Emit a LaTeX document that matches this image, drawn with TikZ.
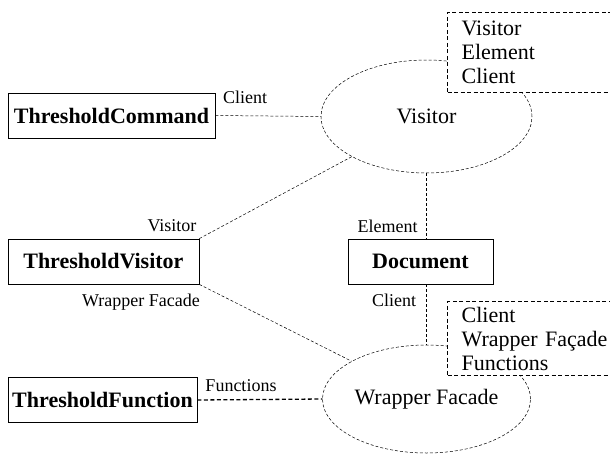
\documentclass[tikz,border=0pt]{standalone}
\usepackage{fontspec}
\setmainfont{Liberation Serif}
\usepackage{tikz}
\usetikzlibrary{shapes.geometric}

\tikzset{
  cls/.style={draw, rectangle, line width=0.8pt, inner sep=0pt, minimum height=45pt,
    font=\fontsize{22}{24}\selectfont\bfseries},
  pattern/.style={draw, ellipse, line width=0.5pt, dash pattern=on 3pt off 2pt,
    inner sep=0pt, font=\fontsize{22}{24}\selectfont},
  role/.style={inner sep=0pt, font=\fontsize{18}{20}\selectfont},
  link/.style={line width=0.5pt, dash pattern=on 3pt off 2pt},
  strong link/.style={line width=1.3pt, dash pattern=on 4pt off 2.5pt},
  legend/.style={draw, rectangle, fill=white, anchor=north west, line width=1.3pt,
    dash pattern=on 4pt off 2.5pt, inner xsep=14pt, inner ysep=0pt, align=left,
    text width=180pt, font=\fontsize{22}{24}\selectfont}
}

\begin{document}
\begin{tikzpicture}[x=1pt, y=-1pt]
        \useasboundingbox (0,0) rectangle (610,455);
        % Pattern ellipses
        \node (visitor) [pattern, minimum width=211pt, minimum height=113pt] at (426.5,116.5) {Visitor};
        \node (wrapper) [pattern, minimum width=208pt, minimum height=108pt] at (426.5,399) {Wrapper Facade};

        % Class boxes
        \node (cmd) [cls, minimum width=207pt] at (111.5,115.5) {ThresholdCommand};
        \node (tvis) [cls, minimum width=191pt] at (103.4,261.5) {ThresholdVisitor};
        \node (doc) [cls, minimum width=145pt] at (420.5,261.5) {Document};
        \node (tfun) [cls, minimum width=189pt] at (102.5,400) {ThresholdFunction};

        % Participants of each pattern
        \node (vroles) [legend, minimum height=80pt] at (447,11.7) {Visitor\\Element\\Client};
        \node (wroles) [legend, minimum height=74pt] at (447,301) {Client\\Wrapper Façade\\Functions};

        % Connectors
        \path[link] (cmd.east) edge (visitor.west);
        \path[link] (tvis.north east) edge (visitor);
        \path[link] (tvis.south east) edge (wrapper);
        \path[link] (visitor.south) edge (visitor.south |- doc.north);
        \path[link] (doc.south -| wrapper.north) edge (wrapper.north);
        \path[strong link] (tfun.east) edge (wrapper.west);

        % Role labels
        \node (lcmd) [role] at (245,97.5) {Client};
        \node (ltvis) [role] at (172,226) {Visitor};
        \node (ldoc) [role] at (387.5,226) {Element};
        \node (lwrap) [role] at (141,302) {Wrapper Facade};
        \node (ldocc) [role] at (394,300) {Client};
        \node (lfun) [role] at (241,386) {Functions};
\end{tikzpicture}
\end{document}
